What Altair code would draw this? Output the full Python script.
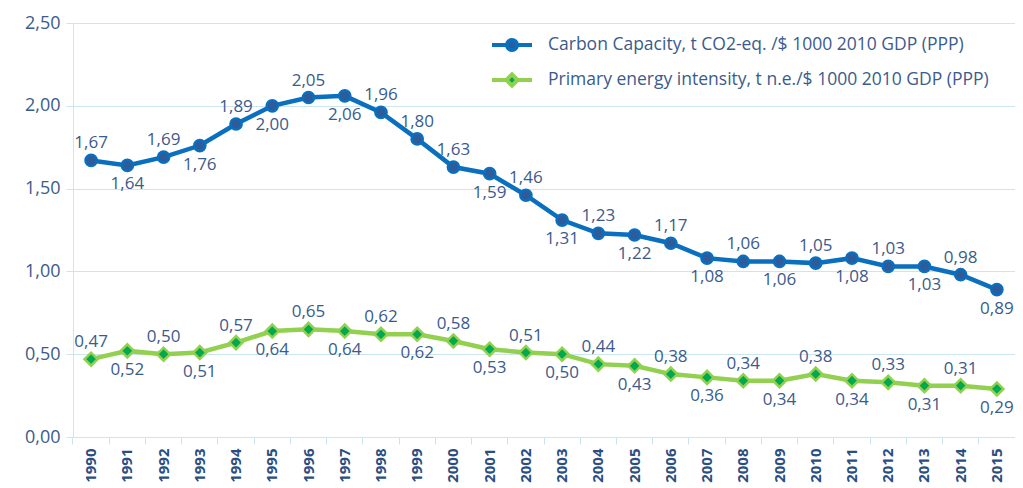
import altair as alt
import pandas as pd

years = [str(y) for y in range(1990, 2016)]
carbon = [1.67, 1.64, 1.69, 1.76, 1.89, 2.00, 2.05, 2.06, 1.96, 1.80, 1.63, 1.59, 1.46,
          1.31, 1.23, 1.22, 1.17, 1.08, 1.06, 1.06, 1.05, 1.08, 1.03, 1.03, 0.98, 0.89]
energy = [0.47, 0.52, 0.50, 0.51, 0.57, 0.64, 0.65, 0.64, 0.62, 0.62, 0.58, 0.53, 0.51,
          0.50, 0.44, 0.43, 0.38, 0.36, 0.34, 0.34, 0.38, 0.34, 0.33, 0.31, 0.31, 0.29]

s_carbon = "Carbon Capacity, t CO2-eq. /$ 1000 2010 GDP (PPP)"
s_energy = "Primary energy intensity, t n.e./$ 1000 2010 GDP (PPP)"
series = [s_carbon, s_energy]

# label placement: alternate above/below (carbon 1999 placed above)
carbon_above_extra = {"1999"}

rows = []
for i, y in enumerate(years):
    rows.append({"year": y, "series": s_carbon, "v": carbon[i],
                 "above": (i % 2 == 0) or (y in carbon_above_extra)})
    rows.append({"year": y, "series": s_energy, "v": energy[i], "above": i % 2 == 0})
df = pd.DataFrame(rows)

FONT = "Open Sans"
TXT = "#3B5B8C"
GRID = "#CBE6EE"
line_colors = ["#0A6FBF", "#92D050"]
fill_colors = ["#2E5C9A", "#00A84F"]

path_c = "M-1,0H-0.25M0.25,0H1M-0.25,0A0.25,0.25 0 1,1 0.25,0A0.25,0.25 0 1,1 -0.25,0Z"
path_e = "M-1,0H-0.28M0.28,0H1M0,-0.28L0.28,0L0,0.28L-0.28,0Z"

x = alt.X("year:O", title=None,
          scale=alt.Scale(type="band", paddingInner=0, paddingOuter=0),
          axis=alt.Axis(labelAngle=-90, labelFont=FONT, labelFontSize=15, labelFontWeight="bold",
                        labelColor="#2B4E80", domainColor=GRID, tickColor=GRID, tickSize=7,
                        bandPosition=0, labelPadding=4, grid=False, labelBaseline="middle"))
y = alt.Y("v:Q", title=None,
          scale=alt.Scale(domain=[0, 2.5], nice=False),
          axis=alt.Axis(values=[0, 0.5, 1, 1.5, 2, 2.5],
                        labelExpr="replace(format(datum.value, '.2f'), '.', ',')",
                        labelFont=FONT, labelFontSize=18, labelColor=TXT,
                        domainColor=GRID, tickColor=GRID, tickSize=7, labelPadding=6,
                        gridColor=GRID, gridWidth=1, minExtent=65))

base = alt.Chart(df).encode(x=x, y=y)

stroke_scale = alt.Scale(domain=series, range=line_colors)
fill_scale = alt.Scale(domain=series, range=fill_colors)

legend = alt.Legend(
    title=None, orient="none", legendX=417, legendY=0,
    labelFont=FONT, labelFontSize=17.5, labelColor=TXT, labelLimit=700,
    symbolSize=1600, symbolStrokeWidth=4, rowPadding=0, labelOffset=14,
    symbolOpacity=1)

lines = base.mark_line(strokeWidth=4.5).encode(
    stroke=alt.Stroke("series:N", scale=stroke_scale, legend=legend)
)

# legend-only layer (draws nothing; carries the legend symbols)
leg_layer = base.transform_filter("datum.v < 0").mark_point(filled=True, opacity=1, strokeWidth=4).encode(
    stroke=alt.Stroke("series:N", scale=stroke_scale, legend=legend),
    fill=alt.Fill("series:N", scale=fill_scale, legend=legend),
    shape=alt.Shape("series:N", scale=alt.Scale(domain=series, range=[path_c, path_e]), legend=legend),
)

pts_c = base.transform_filter(alt.datum.series == s_carbon).mark_point(
    filled=True, opacity=1, shape="circle", size=125, fill=fill_colors[0],
    stroke=line_colors[0], strokeWidth=2.5)
pts_e = base.transform_filter(alt.datum.series == s_energy).mark_point(
    filled=True, opacity=1, shape="diamond", size=170, fill=fill_colors[1],
    stroke=line_colors[1], strokeWidth=2.5)

lab = base.transform_calculate(
    lbl="replace(format(datum.v, '.2f'), '.', ',')"
)
lab_above = lab.transform_filter("datum.above").mark_text(
    font=FONT, fontSize=17, color=TXT, dy=-17, baseline="middle").encode(text="lbl:N")
lab_below = lab.transform_filter("!datum.above").mark_text(
    font=FONT, fontSize=17, color=TXT, dy=19, baseline="middle").encode(text="lbl:N")

chart = alt.layer(lines, leg_layer, pts_c, pts_e, lab_above, lab_below).properties(
    width=942, height=414,
    padding={"left": 0, "top": 6, "right": 0, "bottom": 0},
).configure_view(stroke=None)

chart.save("out.html", embed_options={"renderer": "svg", "actions": False})
